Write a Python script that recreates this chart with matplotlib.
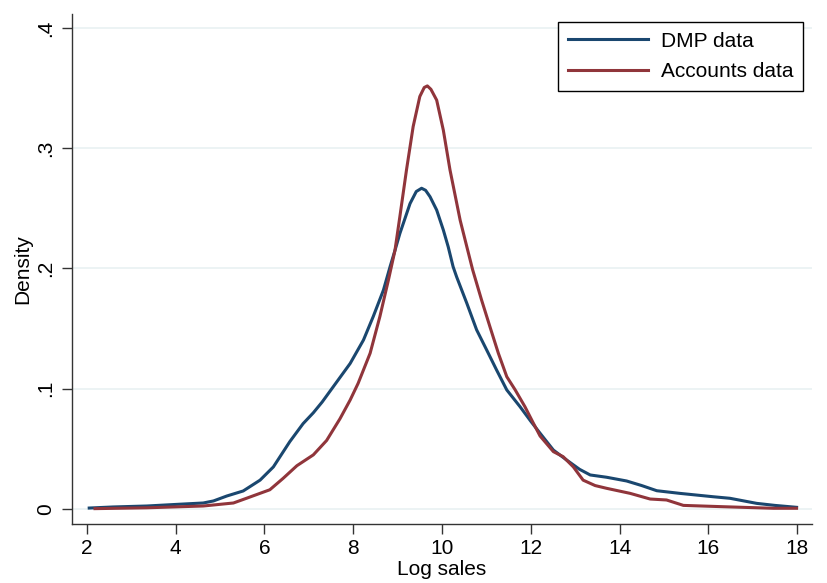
import numpy as np
import matplotlib.pyplot as plt

plt.rcParams['font.family'] = ['Liberation Sans', 'DejaVu Sans']

# density: (log sales, density)
dmp_x = [2.05, 2.59, 3.35, 4.10, 4.62, 4.85, 5.15, 5.52, 5.90, 6.20, 6.57, 6.87,
         7.10, 7.30, 7.55, 7.93, 8.23, 8.45, 8.68, 8.83, 8.94, 9.05, 9.28, 9.42,
         9.54, 9.63, 9.73, 9.88, 10.03, 10.14, 10.25, 10.33, 10.56, 10.78, 11.01,
         11.23, 11.46, 11.76, 12.00, 12.21, 12.51, 12.81, 13.10, 13.34, 13.71,
         14.16, 14.50, 14.84, 15.36, 16.11, 16.49, 17.09, 17.50, 17.99]
dmp_y = [0.0008, 0.0017, 0.0025, 0.0040, 0.0050, 0.0067, 0.0108, 0.0150, 0.0240,
         0.0350, 0.0560, 0.0710, 0.0800, 0.0890, 0.1017, 0.1210, 0.1405, 0.1600,
         0.1820, 0.2015, 0.2150, 0.2290, 0.2540, 0.2640, 0.2667, 0.2650, 0.2597,
         0.2486, 0.2320, 0.2180, 0.2015, 0.1930, 0.1710, 0.1490, 0.1320, 0.1156,
         0.0990, 0.0850, 0.0730, 0.0630, 0.0490, 0.0407, 0.0330, 0.0283, 0.0264,
         0.0233, 0.0195, 0.0152, 0.0130, 0.0102, 0.0089, 0.0047, 0.0030, 0.0014]

acc_x = [2.18, 3.35, 4.62, 5.30, 5.60, 6.12, 6.42, 6.73, 7.10, 7.40, 7.70, 7.93,
         8.11, 8.38, 8.60, 8.79, 8.94, 9.05, 9.20, 9.35, 9.50, 9.60, 9.67, 9.75,
         9.88, 10.03, 10.18, 10.41, 10.56, 10.69, 10.89, 11.08, 11.27, 11.46,
         11.65, 11.87, 12.05, 12.21, 12.51, 12.73, 12.96, 13.18, 13.45, 13.71,
         14.24, 14.69, 15.06, 15.44, 16.34, 17.47, 17.99]
acc_y = [0.0003, 0.0010, 0.0025, 0.0050, 0.0090, 0.0160, 0.0255, 0.0360, 0.0450,
         0.0570, 0.0750, 0.0906, 0.1045, 0.1295, 0.1600, 0.1900, 0.2150, 0.2430,
         0.2820, 0.3180, 0.3430, 0.3505, 0.3518, 0.3490, 0.3400, 0.3150, 0.2820,
         0.2400, 0.2180, 0.1990, 0.1740, 0.1516, 0.1295, 0.1100, 0.0990, 0.0850,
         0.0720, 0.0607, 0.0477, 0.0435, 0.0350, 0.0240, 0.0195, 0.0172, 0.0130,
         0.0083, 0.0075, 0.0030, 0.0019, 0.0006, 0.0006]

xticks = [2, 4, 6, 8, 10, 12, 14, 16, 18]
yticks = [0, 0.1, 0.2, 0.3, 0.4]
ylabels = ['0', '.1', '.2', '.3', '.4']

navy = '#1a476f'
maroon = '#90353b'

fig = plt.figure(figsize=(8.28, 5.83), dpi=100)
ax = fig.add_axes([72 / 828, 59 / 583, 740 / 828, 510 / 583])

ax.plot(dmp_x, dmp_y, color=navy, lw=2.2, label='DMP data', zorder=3)
ax.plot(acc_x, acc_y, color=maroon, lw=2.2, label='Accounts data', zorder=3)

ax.set_xlim(1.662, 18.338)
ax.set_ylim(-0.01247, 0.4116)
ax.set_xticks(xticks)
ax.set_yticks(yticks)
ax.set_yticklabels(ylabels, rotation=90, va='center')
ax.tick_params(axis='both', labelsize=15, length=7, width=1, color='#333333', pad=4)
ax.tick_params(axis='y', pad=5)
ax.grid(axis='y', color='#eaf2f3', lw=1.3, zorder=0)
ax.set_axisbelow(True)
for s in ['top', 'right']:
    ax.spines[s].set_visible(False)
for s in ['left', 'bottom']:
    ax.spines[s].set_color('#333333')
    ax.spines[s].set_linewidth(1)

ax.set_xlabel('Log sales', fontsize=15, labelpad=1)
ax.set_ylabel('Density', fontsize=15, labelpad=3)

leg = ax.legend(loc='upper right', bbox_to_anchor=(803 / 828, 561 / 583),
                bbox_transform=fig.transFigure, fontsize=15, frameon=True,
                fancybox=False, framealpha=1, edgecolor='black',
                handlelength=3.85, handletextpad=0.62, borderpad=0.47,
                labelspacing=0.56, borderaxespad=0)
leg.get_frame().set_linewidth(1)

plt.savefig('out.png', dpi=100)
